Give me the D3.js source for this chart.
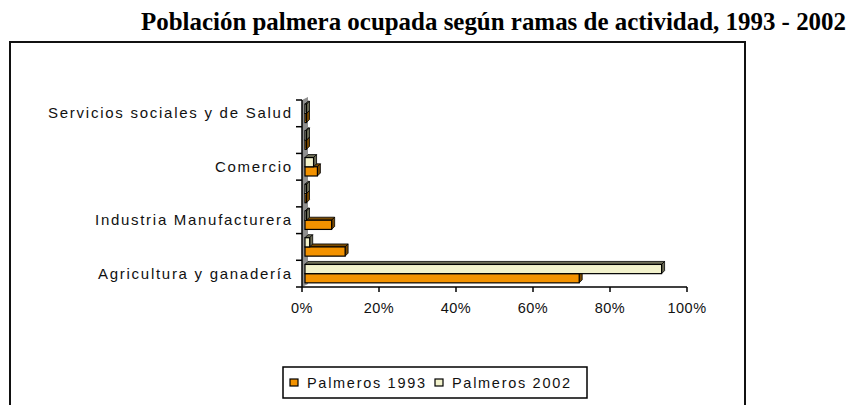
<!DOCTYPE html>
<html>
<head>
<meta charset="utf-8">
<script src="https://cdn.jsdelivr.net/npm/d3@7"></script>
<style>
  body { margin: 0; background: #fff; }
  svg { display: block; }
</style>
</head>
<body>
<div id="chart"></div>
<script>
const width = 856;
const height = 405;

// categories bottom -> top; only every other one is labelled in the original
const categories = ["Agricultura y ganadería", "", "Industria Manufacturera", "", "Comercio", "", "Servicios sociales y de Salud"];
const seriesNames = ["Palmeros 1993", "Palmeros 2002"];
const values1993 = [72, 11.2, 7.7, 1, 4, 0.6, 0.6];
const values2002 = [93.4, 2, 0.5, 0.8, 3, 0.5, 0.5];
const xTicks = [0, 20, 40, 60, 80, 100];

const colors = ["#f39200", "#f2f2cc"];
const shades = ["#7a4a00", "#6e6e58"];
const depth = 3;

const svg = d3.select("#chart").append("svg")
    .attr("width", width)
    .attr("height", height);

// title
svg.append("text")
    .attr("x", 141)
    .attr("y", 30)
    .attr("textLength", 705)
    .attr("lengthAdjust", "spacingAndGlyphs")
    .style("font-family", "'Liberation Serif', 'Times New Roman', serif")
    .style("font-weight", "bold")
    .style("font-size", "25px")
    .text("Población palmera ocupada según ramas de actividad, 1993 - 2002");

// chart frame
svg.append("rect")
    .attr("x", 10)
    .attr("y", 42)
    .attr("width", 735)
    .attr("height", 380)
    .attr("fill", "none")
    .attr("stroke", "#111")
    .attr("stroke-width", 2);

const x = d3.scaleLinear().domain([0, 100]).range([302, 687]);
const y = d3.scaleBand()
    .domain(d3.range(categories.length))
    .range([287, 100]);
const inner = d3.scaleBand()
    .domain([1, 0])
    .range([0, y.bandwidth()])
    .paddingInner(0)
    .paddingOuter(0.45);

// grey side wall
svg.append("polygon")
    .attr("points", [[x(0), y.range()[0]], [x(0) + 6, y.range()[0] - 3], [x(0) + 6, y.range()[1] - 3], [x(0), y.range()[1]]].join(" "))
    .attr("fill", "#8f8f8f");

const data = [];
categories.forEach((c, i) => {
    data.push({cat: i, s: 0, v: values1993[i]});
    data.push({cat: i, s: 1, v: values2002[i]});
});

const bars = svg.append("g").selectAll("g")
    .data(data)
    .join("g");

bars.each(function(d) {
    const g = d3.select(this);
    const x0 = x(0) + 3;
    const x1 = Math.max(x(d.v), x0 + 1.5);
    const y0 = y(d.cat) + inner(d.s);
    const h = inner.bandwidth();
    // top face
    g.append("polygon")
        .attr("points", [[x0, y0], [x0 + depth, y0 - depth], [x1 + depth, y0 - depth], [x1, y0]].join(" "))
        .attr("fill", shades[d.s])
        .attr("stroke", "#000")
        .attr("stroke-width", 0.8);
    // side face
    g.append("polygon")
        .attr("points", [[x1, y0], [x1 + depth, y0 - depth], [x1 + depth, y0 + h - depth], [x1, y0 + h]].join(" "))
        .attr("fill", shades[d.s])
        .attr("stroke", "#000")
        .attr("stroke-width", 0.8);
    // front
    g.append("rect")
        .attr("x", x0)
        .attr("y", y0)
        .attr("width", x1 - x0)
        .attr("height", h)
        .attr("fill", colors[d.s])
        .attr("stroke", "#000")
        .attr("stroke-width", 1.2);
});

// category axis
const yAxis = svg.append("g").attr("transform", `translate(${x(0)},0)`);
yAxis.append("line")
    .attr("y1", y.range()[1]).attr("y2", y.range()[0])
    .attr("stroke", "#000").attr("stroke-width", 1.5);
yAxis.selectAll(".tk")
    .data(d3.range(categories.length + 1))
    .join("line")
    .attr("x1", -6).attr("x2", 0)
    .attr("y1", i => 287 - i * y.step())
    .attr("y2", i => 287 - i * y.step())
    .attr("stroke", "#000").attr("stroke-width", 1.5);

const labelWidths = {"Agricultura y ganadería": 193, "Industria Manufacturera": 196, "Comercio": 76, "Servicios sociales y de Salud": 243};
yAxis.selectAll("text")
    .data(categories.map((c, i) => ({c, i})).filter(d => d.c))
    .join("text")
    .attr("x", d => -11 - labelWidths[d.c])
    .attr("y", d => y(d.i) + y.bandwidth() / 2 + 5)
    .attr("textLength", d => labelWidths[d.c])
    .attr("lengthAdjust", "spacing")
    .style("font-family", "'Liberation Sans', Arial, sans-serif")
    .style("font-size", "15px")
    .style("fill", "#111")
    .text(d => d.c);

// value axis
const xAxis = svg.append("g").attr("transform", `translate(0,${y.range()[0]})`);
xAxis.append("line")
    .attr("x1", x(0)).attr("x2", x(100))
    .attr("stroke", "#000").attr("stroke-width", 1.5);
xAxis.selectAll(".tk")
    .data(xTicks)
    .join("line")
    .attr("x1", d => x(d)).attr("x2", d => x(d))
    .attr("y1", 0).attr("y2", 5)
    .attr("stroke", "#000").attr("stroke-width", 1.5);
xAxis.selectAll("text")
    .data(xTicks)
    .join("text")
    .attr("x", d => x(d))
    .attr("y", 26)
    .attr("text-anchor", "middle")
    .style("font-family", "'Liberation Sans', Arial, sans-serif")
    .style("font-size", "14.5px")
    .style("letter-spacing", "0.5px")
    .style("fill", "#111")
    .text(d => d + "%");

// legend
const legend = svg.append("g");
legend.append("rect")
    .attr("x", 283).attr("y", 367)
    .attr("width", 304).attr("height", 31)
    .attr("fill", "#fff").attr("stroke", "#000").attr("stroke-width", 1.5);
const legendX = [290, 435];
seriesNames.forEach((s, i) => {
    legend.append("rect")
        .attr("x", legendX[i]).attr("y", 379)
        .attr("width", 8).attr("height", 7)
        .attr("fill", colors[i]).attr("stroke", "#000").attr("stroke-width", 1.2);
    legend.append("text")
        .attr("x", legendX[i] + 17)
        .attr("y", 388)
        .attr("textLength", 118)
        .attr("lengthAdjust", "spacing")
        .style("font-family", "'Liberation Sans', Arial, sans-serif")
        .style("font-size", "14.5px")
        .style("fill", "#111")
        .text(s);
});
</script>
</body>
</html>
